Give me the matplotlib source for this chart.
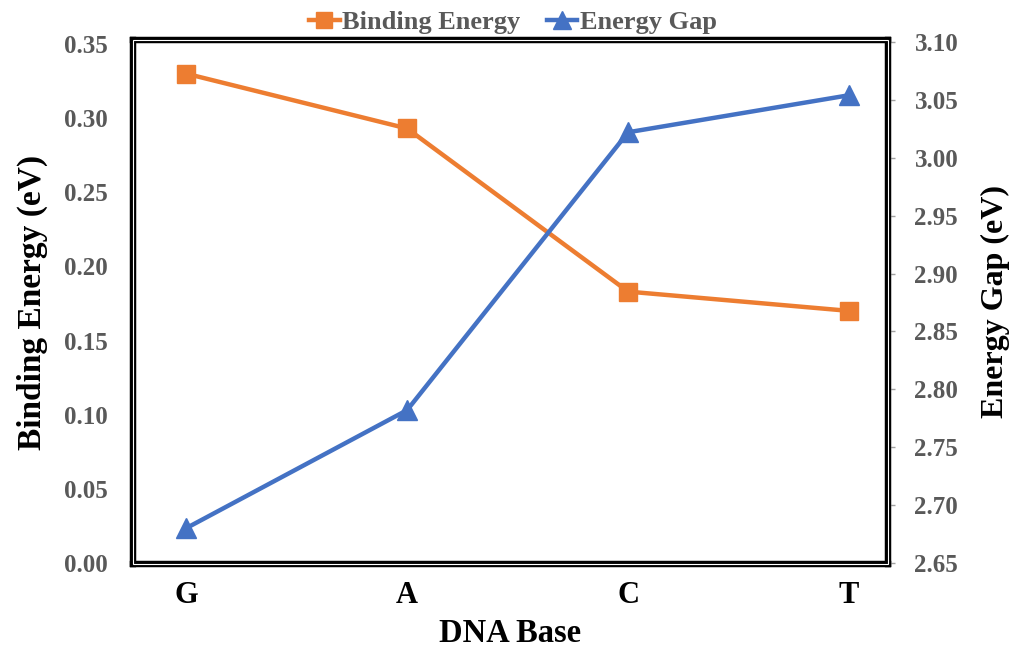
import matplotlib
matplotlib.use("Agg")
import matplotlib.pyplot as plt
from matplotlib.patches import Rectangle
from matplotlib.lines import Line2D

bases = ["G", "A", "C", "T"]
binding_energy = [0.330, 0.293, 0.183, 0.170]
energy_gap = [2.680, 2.782, 3.022, 3.054]
left_ticks = [0.00, 0.05, 0.10, 0.15, 0.20, 0.25, 0.30, 0.35]
right_ticks = [2.65, 2.70, 2.75, 2.80, 2.85, 2.90, 2.95, 3.00, 3.05, 3.10]

ORANGE = "#ED7D31"
BLUE = "#4472C4"
GRAY = "#595959"

plt.rcParams["font.family"] = ["Liberation Serif", "DejaVu Serif"]
plt.rcParams["font.weight"] = "bold"

fig = plt.figure(figsize=(10.14, 6.5), dpi=100)
ax = fig.add_axes([0.1312, 0.1323, 0.7446, 0.8062])
ax2 = ax.twinx()

x = list(range(len(bases)))
ax.plot(x, binding_energy, color=ORANGE, lw=3.2, marker="s", ms=13,
        zorder=3, label="Binding Energy")
ax2.plot(x, energy_gap, color=BLUE, lw=3.2, marker="^", ms=15,
         zorder=3, label="Energy Gap")

ax.set_xlim(-0.24, 3.176)
ax.set_ylim(-0.0007, 0.3527)
ax2.set_ylim(2.6491, 3.1017)

ax.set_xticks(x)
ax.set_xticklabels(bases, fontsize=22, fontweight="bold", color="black")
ax.tick_params(axis="x", length=0, pad=12)

ax.set_yticks(left_ticks)
ax.set_yticklabels([f"{v:.2f}" for v in left_ticks], fontsize=18,
                   fontweight="bold", color=GRAY)
ax.tick_params(axis="y", length=0, pad=18)

ax2.set_yticks(right_ticks)
ax2.set_yticklabels([f"{v:.2f}" for v in right_ticks], fontsize=18,
                    fontweight="bold", color=GRAY)
ax2.tick_params(axis="y", length=5, width=1, color="#A0A0A0", pad=14)

ax.set_xlabel("DNA Base", fontsize=23.5, fontweight="bold", labelpad=6)
ax.set_ylabel("Binding Energy (eV)", fontsize=24, fontweight="bold", labelpad=12)
ax2.set_ylabel("Energy Gap (eV)", fontsize=23, fontweight="bold", labelpad=16)

# double-line frame: thick black edge with a thin white line through it
for a in (ax, ax2):
    for s in a.spines.values():
        s.set_linewidth(4.5)
        s.set_color("black")
ax2.add_patch(Rectangle((0, 0), 1, 1, transform=ax2.transAxes, fill=False,
                        edgecolor="white", lw=0.8, clip_on=False, zorder=10))

handles = [
    Line2D([], [], color=ORANGE, lw=3.2, marker="s", ms=12),
    Line2D([], [], color=BLUE, lw=3.2, marker="^", ms=13),
]
leg = fig.legend(handles, ["Binding Energy", "Energy Gap"], loc="center",
                 bbox_to_anchor=(0.506, 0.966), ncol=2, frameon=False,
                 fontsize=19, handlelength=1.15, handletextpad=0.1,
                 columnspacing=1.0)
for t in leg.get_texts():
    t.set_color(GRAY)
    t.set_fontweight("bold")

fig.savefig("out.png", dpi=100)
